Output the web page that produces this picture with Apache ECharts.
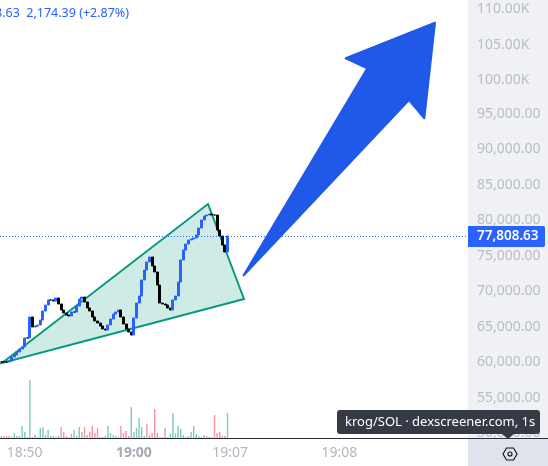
<!DOCTYPE html>
<html><head><meta charset="utf-8">
<style>html,body{margin:0;padding:0;background:#fff}#c{width:548px;height:466px}</style>
<script src="https://cdn.jsdelivr.net/npm/echarts@6/dist/echarts.min.js"></script>
</head><body><div id="c"></div>
<script>
const closes = [59930,59930,59930,60070,60633,60915,61337,61760,62042,63309,63309,66267,64859,64999,65140,65844,67112,67957,68662,68662,68521,68943,68098,67253,66830,66549,66408,66971,66971,67816,68802,69084,68380,67535,67112,66267,65704,65422,64999,64577,64436,65140,65985,66690,66971,67253,66267,65281,64577,64155,63732,66126,68239,69225,71479,72887,74014,74718,73451,72605,70774,68239,68098,67957,67535,67253,68662,69225,71197,74296,75704,76549,77113,77254,77394,77817,78803,79930,80493,80634,80775,80634,80634,78521,77676,76408,75422,77676];
const volumes = [2,2,2,2,1,5,2,2,12,6,1,58,1,3,1,10,11,3,8,2,2,1,2,11,6,2,1,4,8,2,11,6,11,3,6,12,5,10,1,1,2,12,5,3,2,1,12,5,7,2,31,6,10,20,11,2,14,3,5,29,5,1,1,10,1,4,25,5,12,9,3,1,2,6,12,4,2,1,3,2,1,1,23,5,6,2,2,25];
const volumeUp = [1,0,0,0,1,1,1,1,1,1,1,1,0,1,1,1,1,1,1,1,0,1,1,0,0,0,0,0,1,1,1,1,0,0,0,0,0,0,0,0,0,1,1,1,1,0,0,0,0,0,1,1,1,1,1,1,0,0,0,0,0,0,0,0,0,1,1,1,1,1,1,1,1,1,1,1,1,1,1,0,0,0,0,0,0,0,0,1];
const barCount = 180;
const timeLabels = {9:'18:50',51:'19:00',88:'19:07',130:'19:08'};
const categories = Array.from({length:barCount},(_,i)=>timeLabels[i]||'');
const wedgeBars = [0.77,80,93.85];
const wedgeValues = [59788,82183,68802];
const arrowBars = [93.65,157.3,163.2,167.3,132.96,141.27];
const arrowValues = [72112,96831,94254,107719,102705,101296];
const lastPriceText = '77,808.63';
const lastPriceLevel = 77676;
const headerText = '77,808.63  2,174.39 (+2.87%)';
const watermark = 'krog/SOL · dexscreener.com, 1s';
const FONT = '"Noto Sans", sans-serif';

const candleData = closes.map((c,i)=>{const o=i?closes[i-1]:c;return [o,c,Math.min(o,c),Math.max(o,c)];});
const volData = volumes.map((v,i)=>({value:v,itemStyle:{color:volumeUp[i]?'#7fcbbd':'#f7959d'}}));

function polyItem(api,xs,ys,style){
  return {type:'polygon',shape:{points:xs.map((x,i)=>api.coord([x,ys[i]]))},style};
}
const chart = echarts.init(document.getElementById('c'),null,{renderer:'canvas'});
const tickStyle = {color:'#b9bcc5',fontFamily:FONT,fontSize:14};
chart.setOption({
  animation:false,
  backgroundColor:'#fff',
  grid:[
    {left:0,width:468,top:-29,height:497,outerBoundsMode:'none'},
    {left:0,width:468,top:360,height:78,outerBoundsMode:'none'}
  ],
  xAxis:[
    {type:'category',gridIndex:0,data:categories,show:false},
    {type:'category',gridIndex:1,data:categories,position:'bottom',
      axisLine:{show:false},axisTick:{show:false},
      axisLabel:{interval:(i,v)=>v!=='',margin:8,color:'#b2b5be',fontFamily:FONT,fontSize:14,
        formatter:v=>v==='19:00'?'{b|19:00}':v,
        rich:{b:{color:'#a5a8b3',fontWeight:'bold',fontFamily:FONT,fontSize:14}}}},
    {type:'value',gridIndex:0,min:0,max:barCount,show:false}
  ],
  yAxis:[
    {type:'value',gridIndex:0,position:'right',min:45000,max:115000,interval:5000,
      axisLine:{show:false},axisTick:{show:false},splitLine:{show:false},
      axisLabel:{margin:9,...tickStyle,
        formatter:v=>v>=100000?'{k|'+(v/1000).toFixed(2)+'K}':'{n|'+v.toLocaleString('en-US',{minimumFractionDigits:2})+'}',
        rich:{k:{...tickStyle,padding:[6,0,0,0]},n:{...tickStyle,padding:[2,0,0,0]}}}},
    {type:'value',gridIndex:1,min:0,max:78,show:false}
  ],
  series:[
    {type:'custom',name:'wedge',xAxisIndex:2,yAxisIndex:0,z:1,data:[0],clip:false,
      renderItem:(p,api)=>polyItem(api,wedgeBars,wedgeValues,{fill:'rgba(8,153,129,0.2)',stroke:'#089981',lineWidth:2})},
    {type:'candlestick',name:'price',xAxisIndex:0,yAxisIndex:0,z:2,data:candleData,barWidth:2.4,
      itemStyle:{color:'#2962ff',color0:'#000',borderColor:'#2962ff',borderColor0:'#000',borderColorDoji:'#000',borderWidth:1}},
    {type:'bar',name:'volume',xAxisIndex:1,yAxisIndex:1,z:2,data:volData,barWidth:1.4},
    {type:'custom',name:'last',xAxisIndex:2,yAxisIndex:0,z:3,data:[0],clip:false,
      renderItem:(p,api)=>{
        const a=api.coord([0,lastPriceLevel]),b=api.coord([barCount,lastPriceLevel]);
        return {type:'group',children:[
          {type:'line',shape:{x1:a[0],y1:a[1]+.5,x2:b[0],y2:b[1]+.5},style:{stroke:'#2962ff',lineWidth:1,lineDash:[1,2]}},
        ]};
      }},
    {type:'custom',name:'arrow',xAxisIndex:2,yAxisIndex:0,z:4,data:[0],clip:false,
      renderItem:(p,api)=>polyItem(api,arrowBars,arrowValues,{fill:'#2058e8',stroke:'#2058e8',lineWidth:2,lineJoin:'round'})},
    {type:'custom',name:'tag',xAxisIndex:2,yAxisIndex:0,z:5,data:[0],clip:false,
      renderItem:(p,api)=>{
        const b=api.coord([barCount,lastPriceLevel]);
        return {type:'group',children:[
          {type:'rect',shape:{x:468,y:b[1]-10,width:77,height:21,r:[0,2,2,0]},style:{fill:'#2962ff'}},
          {type:'text',style:{x:477,y:b[1]+.5,text:lastPriceText,fill:'#fff',font:'600 13.5px '+FONT,verticalAlign:'middle',align:'left'}}
        ]};
      }}
  ],
  graphic:[
    {type:'rect',z:-10,silent:true,shape:{x:468,y:0,width:80,height:438},style:{fill:'#f0f1f5'}},
    {type:'rect',z:50,silent:true,shape:{x:468,y:438,width:80,height:28},style:{fill:'#e0e3eb'}},
    {type:'line',z:51,silent:true,shape:{x1:0,y1:438.5,x2:548,y2:438.5},style:{stroke:'#2a2e39',lineWidth:1}},
    {type:'text',z:60,silent:true,style:{x:129,y:13,text:headerText,fill:'#2962ff',font:'12.5px '+FONT,align:'right',verticalAlign:'middle'}},
    {type:'polygon',z:70,silent:true,shape:{points:[[502,434],[514,434],[508,439]]},style:{fill:'#363a45'}},
    {type:'rect',z:70,silent:true,shape:{x:337,y:410,width:203,height:24,r:3},style:{fill:'#363a45'}},
    {type:'text',z:71,silent:true,style:{x:345,y:422,text:watermark,fill:'#fff',font:'13px '+FONT,verticalAlign:'middle'}},
    {type:'polygon',z:71,silent:true,shape:{points:[[503,454],[506.5,448],[513.5,448],[517,454],[513.5,460],[506.5,460]]},style:{fill:'none',stroke:'#131722',lineWidth:1.2}},
    {type:'circle',z:71,silent:true,shape:{cx:510,cy:454,r:2},style:{fill:'none',stroke:'#131722',lineWidth:1.2}}
  ]
});
</script></body></html>
